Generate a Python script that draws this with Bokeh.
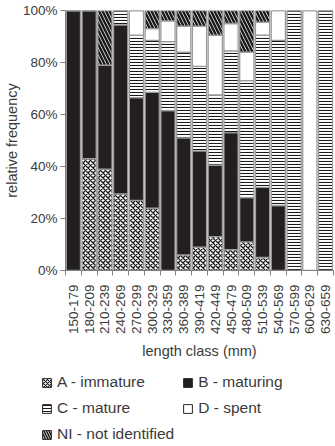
from bokeh.plotting import figure
from bokeh.layouts import column, row
from bokeh.models import (Range1d, FixedTicker, PrintfTickFormatter, Legend, LegendItem,
                          ColumnDataSource)
from bokeh.embed import file_html
from bokeh.resources import INLINE

length_classes = ["150-179", "180-209", "210-239", "240-269", "270-299", "300-329",
                  "330-359", "360-389", "390-419", "420-449", "450-479", "480-509",
                  "510-539", "540-569", "570-599", "600-629", "630-659"]
immature = [0, 43, 39, 29.5, 27, 24, 0, 6, 9, 13, 8, 11, 5, 0, 0, 0, 0]
maturing = [100, 57, 40, 65, 39.5, 44.5, 61.5, 45, 37, 27.5, 45, 17, 27, 25, 0, 0, 0]
mature = [0, 0, 0, 5.5, 24, 20, 26.5, 33, 32.5, 27, 31.5, 45, 58.5, 63.5, 100, 0, 100]
spent = [0, 0, 0, 0, 9.5, 4.5, 8, 10, 15.5, 23, 10.5, 11, 5, 11.5, 0, 100, 0]
not_identified = [0, 0, 21, 0, 0, 7, 4, 6, 6, 9.5, 5, 16, 4.5, 0, 0, 0, 0]
stage_labels = ["A - immature", "B - maturing", "C - mature", "D - spent", "NI - not identified"]
y_ticks = [0, 20, 40, 60, 80, 100]

FONT = "Liberation Sans"
TXT = "#3a3a3a"
GREY = "#808080"

xs = list(range(1, len(length_classes) + 1))
series = [immature, maturing, mature, spent, not_identified]
keys = ["A", "B", "C", "D", "NI"]
src = ColumnDataSource({"x": xs})

# pattern styles per stage
fills = ["white", "#231f20", "white", "white", "white"]
hatches = ["diagonal_cross", " ", "horizontal_line", " ", "left_diagonal_line"]
hscales = [5, 12, 3, 12, 7]
hweights = [1.3, 1, 1.1, 1, 2.5]

p = figure(width=335, height=362, output_backend="svg", toolbar_location=None,
           x_range=Range1d(0.5, len(length_classes) + 0.5), y_range=Range1d(0, 100),
           min_border_left=2, min_border_right=2, min_border_top=10, min_border_bottom=90)
p.outline_line_color = None
p.xgrid.visible = False
p.ygrid.visible = False

bottom = [0] * len(xs)
for k, s in zip(keys, series):
    top = [b + v for b, v in zip(bottom, s)]
    src.data[k + "_b"] = bottom
    src.data[k + "_t"] = top
    bottom = top

for k, fc, hp, hs, hw in zip(keys, fills, hatches, hscales, hweights):
    p.vbar(x="x", bottom=k + "_b", top=k + "_t", width=0.9, source=src,
           fill_color=fc, line_color="#9a9a9a", line_width=1.3,
           hatch_pattern=hp, hatch_color="#1a1a1a", hatch_scale=hs, hatch_weight=hw)

# x axis: labels at centres, tick marks at class boundaries
xa = p.xaxis[0]
xa.ticker = FixedTicker(ticks=xs, minor_ticks=[x - 0.5 for x in xs] + [len(xs) + 0.5])
xa.major_label_overrides = {x: lab for x, lab in zip(xs, length_classes)}
xa.major_label_orientation = 3.14159265 / 2
xa.major_tick_line_color = None
xa.major_tick_in = 0
xa.major_tick_out = 0
xa.minor_tick_in = 0
xa.minor_tick_out = 5
xa.minor_tick_line_color = GREY
xa.axis_line_color = GREY
xa.major_label_text_font = FONT
xa.major_label_text_font_size = "13.5px"
xa.major_label_text_color = TXT
xa.major_label_standoff = 9
xa.axis_label = "length class (mm)"
xa.axis_label_text_font = FONT
xa.axis_label_text_font_size = "14.5px"
xa.axis_label_text_font_style = "normal"
xa.axis_label_text_color = TXT
xa.axis_label_standoff = 6

ya = p.yaxis[0]
ya.ticker = FixedTicker(ticks=y_ticks)
ya.formatter = PrintfTickFormatter(format="%d%%")
ya.minor_tick_line_color = None
ya.major_tick_in = 0
ya.major_tick_out = 5
ya.major_tick_line_color = GREY
ya.axis_line_color = GREY
ya.major_label_text_font = FONT
ya.major_label_text_font_size = "13.5px"
ya.major_label_text_color = TXT
ya.major_label_standoff = 3
ya.axis_label = "relative frequency"
ya.axis_label_text_font = FONT
ya.axis_label_text_font_size = "14.5px"
ya.axis_label_text_font_style = "normal"
ya.axis_label_text_color = TXT
ya.axis_label_standoff = 0

# legend panel (legend proxies use the same data, outside this panel's visible range)
q = figure(width=335, height=84, output_backend="svg", toolbar_location=None,
           x_range=Range1d(-100, -99), y_range=Range1d(-100, -99), min_border=0)
q.axis.visible = False
q.grid.visible = False
q.outline_line_color = None
items = []
for lab, k, fc, hp, hs, hw in zip(stage_labels, keys, fills, hatches, [4, 12, 3, 12, 5], [1.1, 1, 1, 1, 1.6]):
    r = q.vbar(x="x", bottom=k + "_b", top=k + "_t", width=0.9, source=src, fill_color=fc,
               line_color="#2a2a2a", line_width=1, hatch_pattern=hp, hatch_color="#1a1a1a",
               hatch_scale=hs, hatch_weight=hw)
    items.append(LegendItem(label=lab, renderers=[r]))

legend = Legend(items=items, orientation="horizontal", ncols=2, location=(41, 3))
legend.border_line_color = None
legend.background_fill_alpha = 0
legend.label_text_font = FONT
legend.label_text_font_size = "15.5px"
legend.label_text_color = TXT
legend.glyph_width = 11
legend.glyph_height = 11
legend.label_standoff = 5
legend.spacing = 8
legend.padding = 0
legend.margin = 0
q.add_layout(legend, "center")

layout = column(p, row(q, spacing=0), spacing=0)
open("out.html", "w").write(file_html(layout, INLINE))
